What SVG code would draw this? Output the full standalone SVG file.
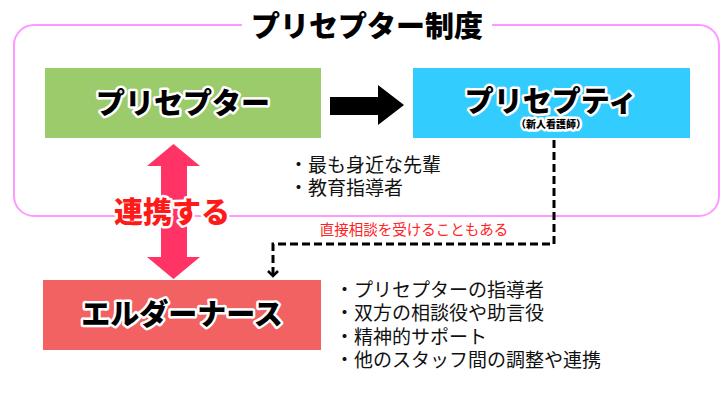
<svg xmlns="http://www.w3.org/2000/svg" width="728" height="400" viewBox="0 0 728 400">
<style>
.hd{font-family:"Noto Sans CJK JP","Noto Sans",sans-serif;font-weight:900;fill:#000;stroke:#fff;stroke-width:5;stroke-linejoin:round;paint-order:stroke;text-anchor:middle}
.tx{font-family:"Noto Sans CJK JP","Noto Sans",sans-serif;font-size:19px;fill:#111}
</style>
<defs>
<marker id="chev" markerWidth="12" markerHeight="12" refX="6" refY="6" orient="auto" markerUnits="userSpaceOnUse">
<path d="M1,1 L6,6 L1,11" fill="none" stroke="#000" stroke-width="2.5"/>
</marker>
</defs>
<rect width="728" height="400" fill="#fff"/>
<g id="frame">
<rect x="14" y="25" width="705" height="191" rx="20" ry="20" fill="none" stroke="#FF99FF" stroke-width="2"/>
<rect x="242" y="14" width="250" height="22" fill="#fff"/>
<text class="hd" x="367" y="37" font-size="29">プリセプター制度</text>
</g>
<g id="connectors">
<path d="M330,97 H378 V85 L404,105 L378,125 V115 H330 Z" fill="#000"/>
<path d="M173.5,144 L200,166 H187 V257 H200 L173.5,279 L147,257 H161 V166 H147 Z" fill="#FF3366"/>
<path d="M554,140 V244 H273 V276" fill="none" stroke="#000" stroke-width="3" stroke-dasharray="8,4" marker-end="url(#chev)"/>
<text x="414" y="235" font-family="'Noto Sans CJK JP',sans-serif" font-size="14.5" fill="#FF2222" text-anchor="middle">直接相談を受けることもある</text>
</g>
<g id="preceptor">
<rect x="45" y="68" width="276" height="70" fill="#9BCB6A"/>
<text class="hd" x="183" y="114" font-size="29">プリセプター</text>
</g>
<g id="preceptee">
<rect x="413" y="68" width="277" height="70" fill="#33CCFF"/>
<text class="hd" x="551" y="112" font-size="29">プリセプティ</text>
<text class="hd" x="551" y="128" font-size="10" stroke-width="3">（新人看護師）</text>
</g>
<g id="renkei">
<text class="hd" x="172" y="223" font-size="29" style="fill:#FF1A1A">連携する</text>
</g>
<g id="preceptor-notes">
<text class="tx" x="289" y="172">・最も身近な先輩</text>
<text class="tx" x="289" y="195">・教育指導者</text>
</g>
<g id="elder-notes">
<text class="tx" x="335" y="297">・プリセプターの指導者</text>
<text class="tx" x="335" y="320">・双方の相談役や助言役</text>
<text class="tx" x="335" y="344">・精神的サポート</text>
<text class="tx" x="335" y="367">・他のスタッフ間の調整や連携</text>
</g>
<g id="elder">
<rect x="43" y="280" width="278" height="70" fill="#F26262"/>
<text class="hd" x="182" y="325" font-size="29">エルダーナース</text>
</g>
</svg>
